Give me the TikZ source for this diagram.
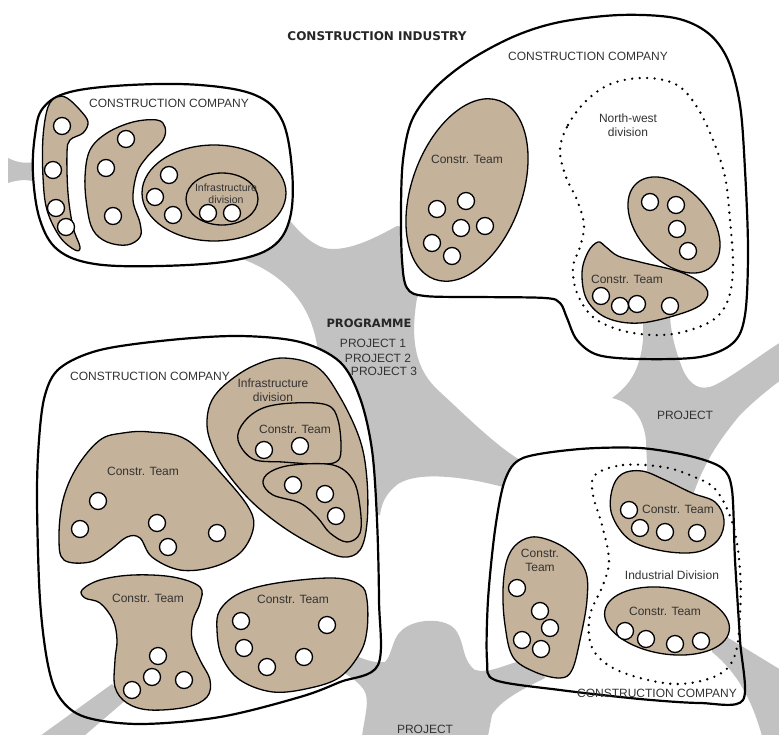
\documentclass[tikz,border=0pt]{standalone}
\usepackage{fontspec}
\setmainfont{Liberation Sans}
\newfontfamily\headfont{DejaVu Sans}
\definecolor{tan}{HTML}{C5B29A}
\definecolor{netgrey}{HTML}{C2C2C2}
\definecolor{txt}{HTML}{333333}
\begin{document}
\begin{tikzpicture}[x=1pt,y=-1pt,
  company/.style={draw=black,line width=2.2pt},
  teamblob/.style={fill=tan,draw=black,line width=1.3pt},
  member/.style={fill=white,draw=black,line width=1.3pt},
  division/.style={draw=black,dash pattern=on 0pt off 7.5pt,line cap=round,line width=2.6pt},
  net/.style={fill=netgrey},
  lbl/.style={font=\fontsize{12}{14}\selectfont,text=txt,inner sep=0pt,align=center},
  smalllbl/.style={font=\fontsize{10.5}{12}\selectfont,text=txt,inner sep=0pt,align=center},
  head/.style={font=\headfont\bfseries\fontsize{11.5}{13}\selectfont,text=black!85,inner sep=0pt}]
\useasboundingbox (0,0) rectangle (779,734);

% ---------- company outlines (saved) ----------
\path[save path=\tlco] plot[smooth cycle,tension=0.6] coordinates {(43,108) (70,92) (130,85) (200,85) (255,95) (282,120) (292,170) (290,218) (272,247) (230,261) (160,266) (95,264) (58,250) (40,220) (33,175) (35,135)};
\path[save path=\trco] plot[smooth cycle,tension=0.55] coordinates {(403,160) (412,120) (435,88) (470,60) (515,36) (560,22) (620,15) (675,18) (708,33) (728,60) (740,105) (745,170) (748,250) (745,315) (733,343) (700,357) (640,359) (598,355) (577,340) (567,318) (560,303) (545,298) (480,297) (425,296) (407,288) (402,260) (401,210)};
\path[save path=\blco] plot[smooth cycle,tension=0.55] coordinates {(45,395) (60,368) (100,350) (170,340) (240,336) (300,342) (340,362) (360,398) (372,450) (377,520) (379,600) (378,665) (340,682) (300,697) (220,717) (140,724) (85,717) (60,698) (48,665) (40,600) (37,500) (39,440)};
\path[save path=\brco] plot[smooth cycle,tension=0.5] coordinates {(505,480) (523,458) (580,449) (640,448) (690,456) (722,468) (732,490) (735,560) (740,640) (743,700) (700,703) (640,699) (560,690) (495,680) (487,660) (488,600) (495,530)};

% ---------- grey network under the companies ----------
\fill[net] (8,158) .. controls (20,164) and (30,164) .. (42,160) -- (42,184) .. controls (30,179) and (20,179) .. (8,183) -- cycle;
\fill[net] (262,200) -- (287,217) .. controls (305,240) and (320,250) .. (335,249)
  .. controls (355,248) and (375,238) .. (397,226) -- (425,230) -- (425,285) -- (417,298)
  .. controls (410,340) and (415,370) .. (440,392) .. controls (465,415) and (495,445) .. (520,460)
  -- (535,480) -- (512,492) -- (503,487) .. controls (470,478) and (420,470) .. (398,484)
  .. controls (388,492) and (382,500) .. (380,515) -- (340,520) -- (320,380) -- (318,352)
  .. controls (312,300) and (280,272) .. (237,257) -- (240,220) -- cycle;

% ---------- company fills ----------
\fill[white,use path=\tlco];
\fill[white,use path=\trco];
\fill[white,use path=\blco];
\fill[white,use path=\brco];

% ---------- grey arms reaching the teams ----------
\fill[net] (643,312) -- (643,340) .. controls (640,370) and (630,385) .. (612,398)
  .. controls (630,402) and (643,415) .. (646,440) -- (648,490) -- (690,505)
  .. controls (700,470) and (715,445) .. (740,415) .. controls (755,400) and (770,388) .. (781,380)
  -- (781,342) .. controls (760,355) and (735,375) .. (715,385) .. controls (700,392) and (690,385) .. (683,370)
  .. controls (675,350) and (670,330) .. (670,312) -- cycle;
\fill[net] (338,648) .. controls (355,655) and (370,664) .. (385,662) .. controls (392,655) and (392,640) .. (400,632)
  .. controls (412,618) and (448,616) .. (457,632) .. controls (465,645) and (462,660) .. (475,670)
  .. controls (490,674) and (505,664) .. (525,660) -- (540,668) -- (545,678)
  .. controls (525,688) and (500,700) .. (492,715) -- (488,736) -- (362,736)
  .. controls (365,715) and (370,700) .. (364,690) .. controls (357,680) and (346,674) .. (336,668) -- cycle;
\fill[net] (112,684) -- (127,699) -- (84,736) -- (40,736) -- cycle;
\fill[net] (712,628) -- (781,670) -- (781,736) -- (762,736) .. controls (752,700) and (737,672) .. (712,652) -- cycle;

% ---------- company outlines ----------
\draw[company,use path=\tlco];
\draw[company,use path=\trco];
\draw[company,use path=\blco];
\draw[company,use path=\brco];

% ---------- divisions (dotted) ----------
\draw[division] plot[smooth cycle,tension=0.6] coordinates {(560,150) (568,125) (587,100) (613,83) (647,78) (677,85) (697,107) (713,140) (725,177) (730,220) (733,267) (728,300) (713,320) (683,332) (653,335) (620,330) (593,317) (577,293) (573,267) (580,247) (584,225) (577,200) (566,177)};
\draw[division] plot[smooth cycle,tension=0.6] coordinates {(595,475) (623,465) (663,467) (692,476) (716,490) (733,525) (740,570) (740,615) (735,655) (718,675) (680,684) (640,678) (608,665) (591,645) (590,615) (603,585) (609,560) (602,525) (593,495)};

% ---------- teams: top-left company ----------
\draw[teamblob] plot[smooth cycle,tension=0.6] coordinates {(57,97) (67,98) (80,110) (88,122) (83,133) (70,140) (67,153) (68,193) (73,227) (80,247) (75,250) (60,237) (47,210) (43,177) (43,137) (48,107)};
\draw[teamblob] plot[smooth cycle,tension=0.6] coordinates {(90,150) (107,133) (133,122) (157,120) (165,127) (163,140) (147,157) (137,173) (133,200) (140,223) (140,237) (127,245) (107,242) (93,230) (87,207) (85,177)};
\draw[teamblob] (214,193) ellipse [x radius=72pt,y radius=48pt];
\draw[teamblob] (222,199) ellipse [x radius=36pt,y radius=26pt];

% ---------- teams: top-right company ----------
\draw[teamblob,rotate around={-20:(467,190)}] (467,190) ellipse [x radius=55pt,y radius=95pt];
\draw[teamblob,rotate around={-48:(674,225)}] (674,225) ellipse [x radius=56pt,y radius=36pt];
\draw[teamblob] plot[smooth cycle,tension=0.6] coordinates {(598,242) (606,247) (618,256) (640,262) (683,273) (706,288) (704,302) (683,313) (640,323) (607,318) (587,300) (582,273) (588,252)};

% ---------- teams: bottom-left company ----------
\draw[teamblob] plot[smooth cycle,tension=0.6] coordinates {(207,420) (212,400) (227,383) (253,366) (283,358) (317,367) (340,397) (360,440) (367,480) (367,523) (360,550) (343,557) (317,547) (283,527) (250,500) (223,467) (210,440)};
\draw[teamblob] plot[smooth cycle,tension=0.6] coordinates {(238,440) (244,422) (263,408) (293,403) (327,405) (338,420) (341,450) (336,462) (317,464) (283,462) (253,459)};
\draw[teamblob] plot[smooth cycle,tension=0.6] coordinates {(263,483) (270,472) (293,465) (333,465) (353,480) (360,507) (360,533) (347,542) (330,533) (317,517) (300,503) (273,495)};
\draw[teamblob] plot[smooth cycle,tension=0.6] coordinates {(100,440) (123,433) (150,432) (187,440) (227,480) (250,510) (253,530) (240,553) (213,567) (180,570) (152,557) (140,538) (127,537) (110,550) (90,562) (64,560) (59,538) (63,500) (77,467)};
\draw[teamblob] plot[smooth cycle,tension=0.6] coordinates {(82,590) (100,580) (133,575) (173,577) (200,587) (200,603) (193,620) (192,640) (200,660) (210,680) (207,697) (187,707) (150,710) (127,703) (115,687) (115,660) (117,640) (113,620) (100,603) (85,598)};
\draw[teamblob] plot[smooth cycle,tension=0.6] coordinates {(217,630) (220,610) (240,593) (277,583) (333,578) (360,585) (367,600) (367,630) (360,653) (340,677) (310,688) (273,692) (240,680) (222,657)};

% ---------- teams: bottom-right company ----------
\draw[teamblob] plot[smooth cycle,tension=0.6] coordinates {(537,537) (565,548) (585,570) (587,600) (580,640) (572,670) (560,678) (535,672) (513,657) (505,625) (503,590) (507,560) (518,543)};
\draw[teamblob] plot[smooth cycle,tension=0.6] coordinates {(612,490) (622,474) (642,471) (665,480) (692,493) (715,502) (724,520) (718,540) (697,552) (663,551) (630,540) (612,515)};
\draw[teamblob,rotate around={-9:(667,621)}] (667,621) ellipse [x radius=63pt,y radius=33pt];

% ---------- members ----------
\foreach \x/\y in {62/126,53/170,56/208,66/227, 126/139,106/168,113/216, 169/175,155/197,173/215, 208/213,232/213,
  437/209,466/201,461/228,485/226,432/243,452/256, 650/202,676/205,677/229,688/251, 601/296,620/306,637/304,670/306,
  264/450,300/446, 293/485,325/494,336/516, 98/501,80/529,157/523,168/547,217/533, 158/656,152/677,132/690,184/680,
  241/621,327/625,244/648,267/667,304/657, 517/588,540/611,550/628,522/640,541/649, 629/510,640/528,665/532,697/533,
  625/631,646/639,675/644,701/641}
  \draw[member] (\x,\y) circle [radius=8.5pt];

% ---------- labels ----------
\node[head,font=\headfont\bfseries\fontsize{12}{13}\selectfont] (industry) at (377,36) {CONSTRUCTION INDUSTRY};
\node[head] (programme) at (369,323) {PROGRAMME};
\node[lbl] (p1) at (373,343) {PROJECT 1};
\node[lbl] (p2) at (378,358) {PROJECT 2};
\node[lbl] (p3) at (384,371) {PROJECT 3};
\node[lbl] (projright) at (685,415) {PROJECT};
\node[lbl,anchor=base] (projbottom) at (425,733) {PROJECT};

\node[lbl] (tlcompany) at (169,103) {CONSTRUCTION COMPANY};
\node[smalllbl] (tlinfra) at (226,194) {Infrastructure\\division};

\node[lbl] (trcompany) at (588,56) {CONSTRUCTION COMPANY};
\node[lbl] (trteamA) at (467,159) {Constr. Team};
\node[lbl] (trnw) at (628,125) {North-west\\division};
\node[lbl] (trteamB) at (627,279) {Constr. Team};

\node[lbl] (blcompany) at (150,376) {CONSTRUCTION COMPANY};
\node[lbl] (blinfra) at (273,390) {Infrastructure\\division};
\node[lbl] (blteamA) at (295,429) {Constr. Team};
\node[lbl] (blteamB) at (143,471) {Constr. Team};
\node[lbl] (blteamC) at (148,598) {Constr. Team};
\node[lbl] (blteamD) at (293,599) {Constr. Team};

\node[lbl] (brteamA) at (540,560) {Constr.\\Team};
\node[lbl] (brteamB) at (678,509) {Constr. Team};
\node[lbl] (brindustrial) at (672,575) {Industrial Division};
\node[lbl] (brteamC) at (665,611) {Constr. Team};
\node[lbl] (brcompany) at (657,693) {CONSTRUCTION COMPANY};
\end{tikzpicture}
\end{document}
